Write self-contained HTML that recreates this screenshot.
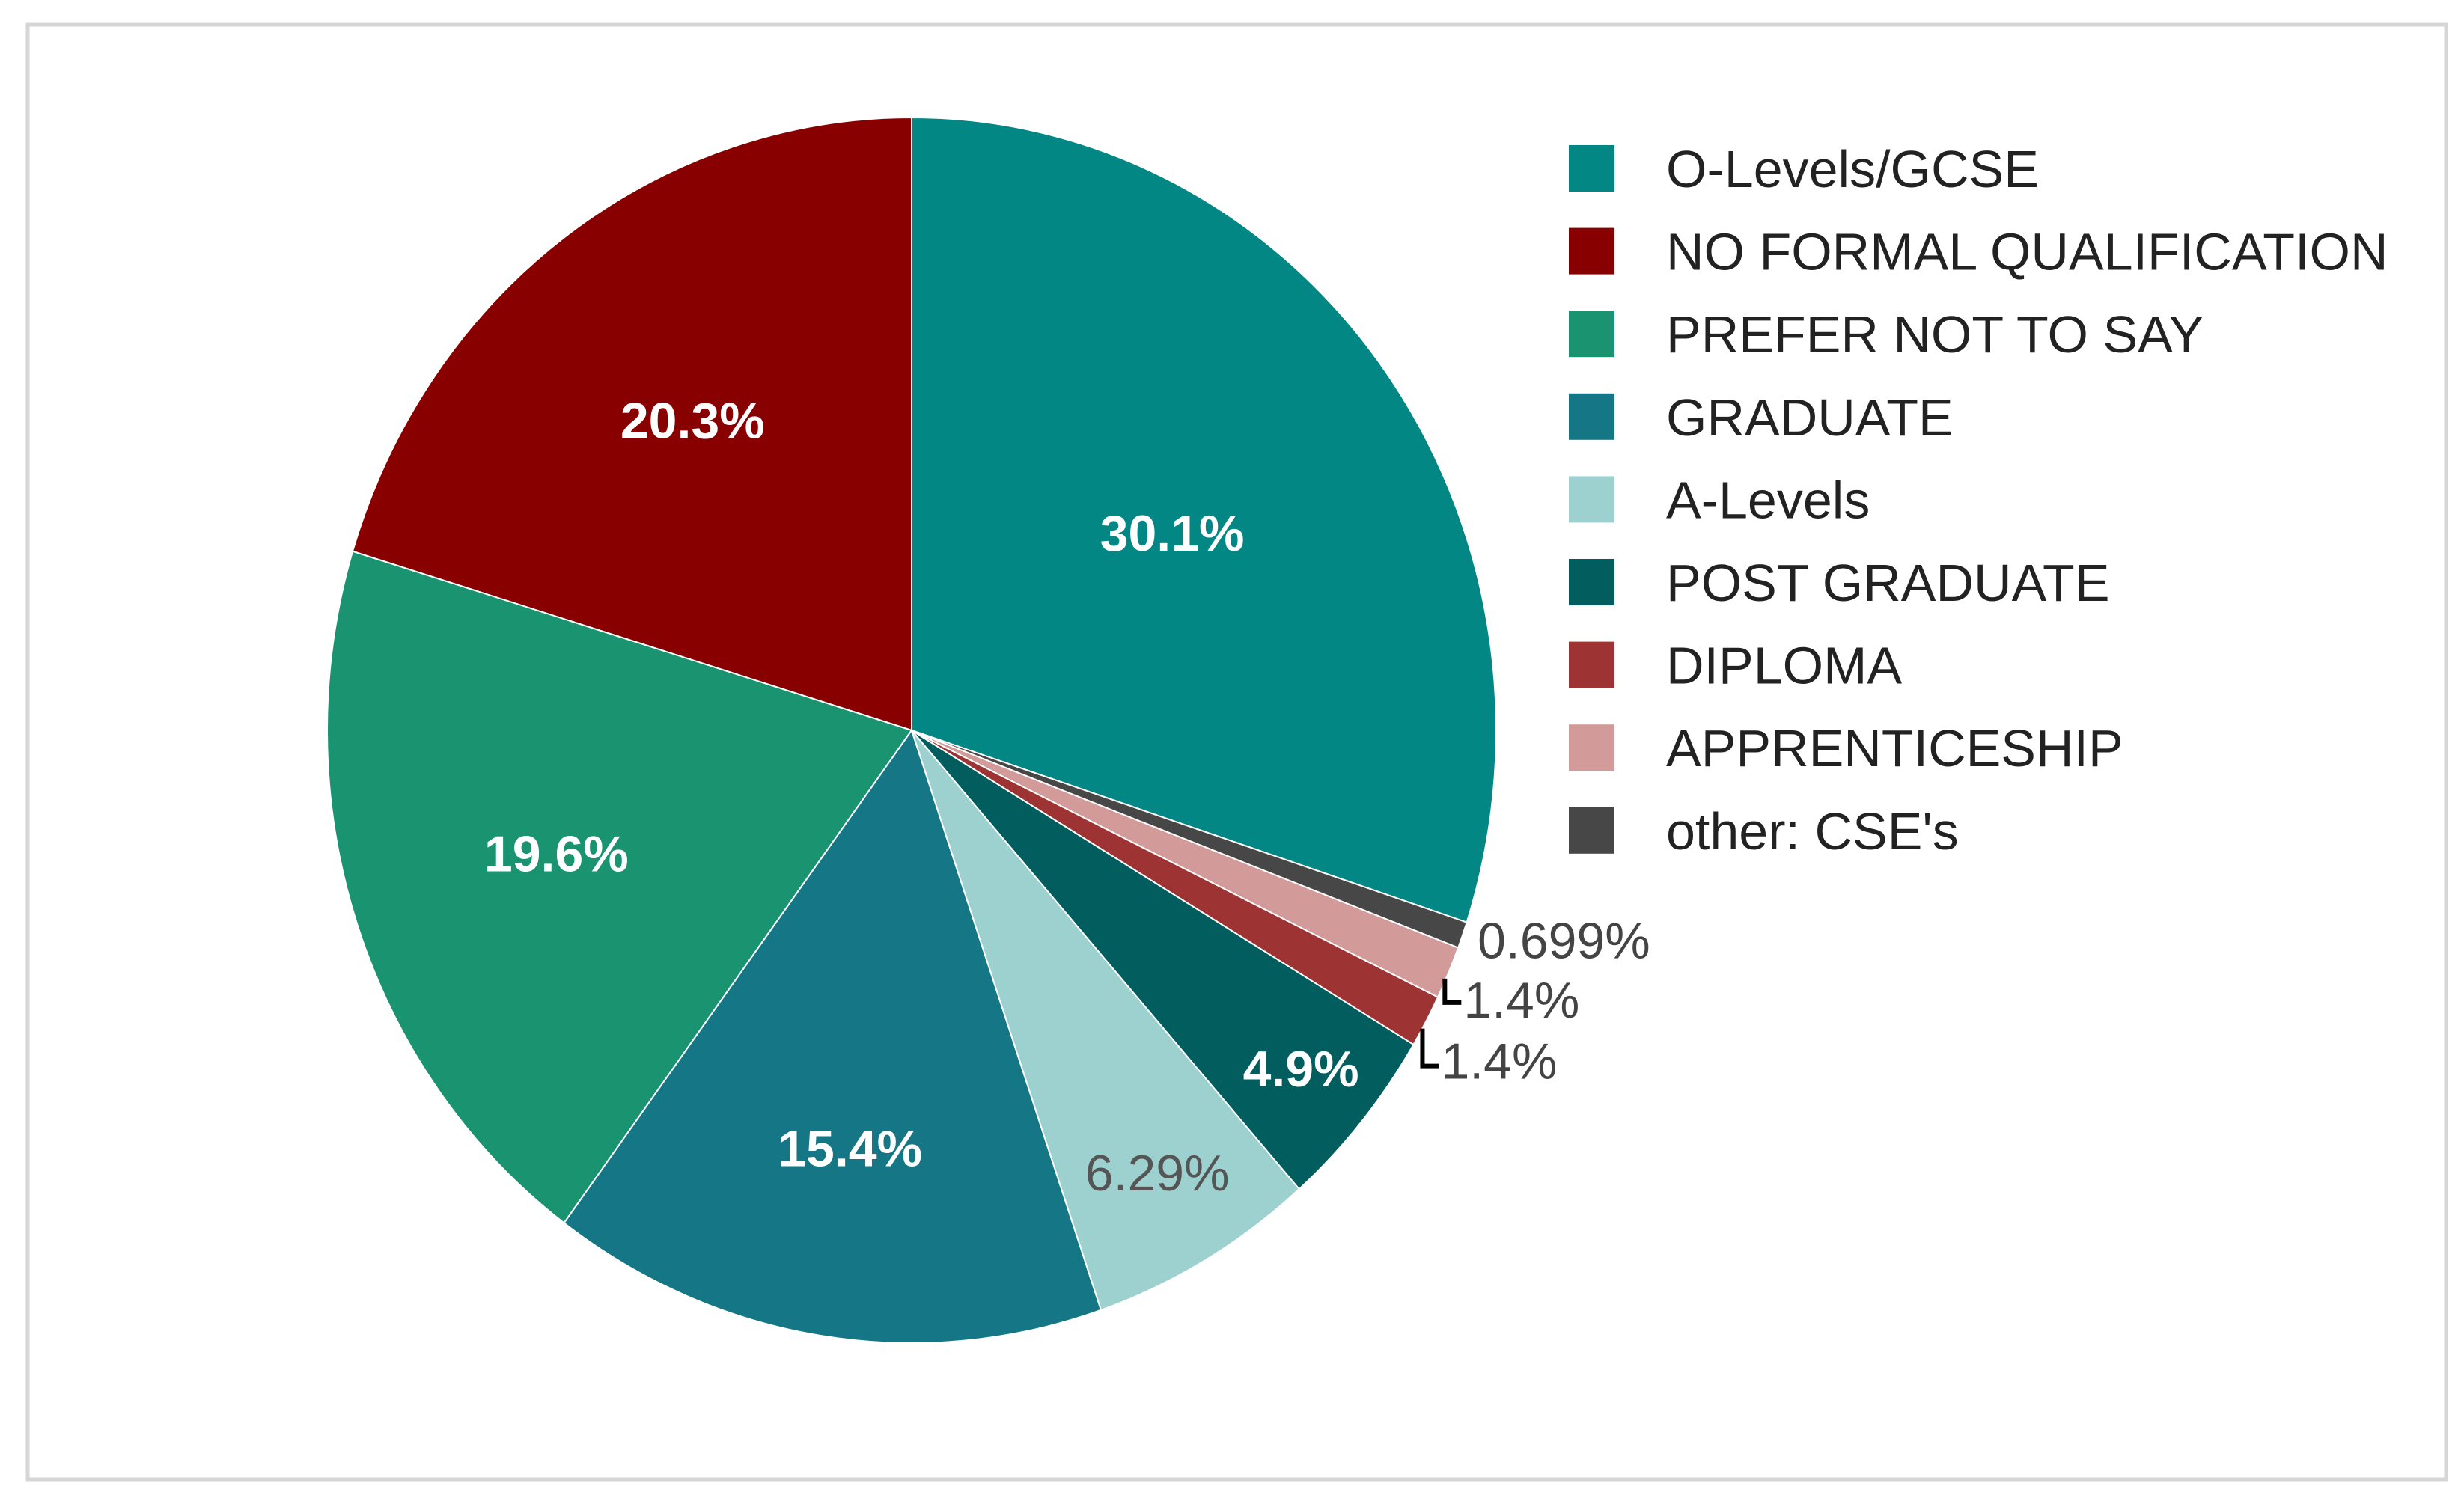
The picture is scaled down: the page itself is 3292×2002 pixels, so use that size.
<!DOCTYPE html>
<html><head><meta charset="utf-8">
<style>
html,body{margin:0;padding:0;background:#fff;}
svg{display:block;}
text{font-family:"Liberation Sans",sans-serif;}
</style></head>
<body>
<svg id="chart" width="3292" height="2002" viewBox="0 0 3292 2002" xmlns="http://www.w3.org/2000/svg">
<rect x="37" y="33" width="3231" height="1944" fill="#fff" stroke="#d6d6d6" stroke-width="5"/>
<g id="slices"></g>
<g id="labels"></g>
<g id="legend"></g>
</svg>
<script>
const categories = ["O-Levels/GCSE","NO FORMAL QUALIFICATION","PREFER NOT TO SAY","GRADUATE","A-Levels","POST GRADUATE","DIPLOMA","APPRENTICESHIP","other: CSE's"];
const values = [30.1,20.3,19.6,15.4,6.29,4.9,1.4,1.4,0.699];
const valueLabels = ["30.1%","20.3%","19.6%","15.4%","6.29%","4.9%","1.4%","1.4%","0.699%"];
const colors = ["#038785","#880000","#1a9470","#157786","#9dd1d0","#025e5e","#9e3333","#d39a9a","#474747"];
const labelRadius = [0.55,0.63,0.64,0.69,0.835,0.865,1,1,1];

const NS = "http://www.w3.org/2000/svg";
const cx = 1218, cy = 976, rx = 781, ry = 819;
const total = values.reduce((a,b)=>a+b,0);
const offset = values[0]/total*2*Math.PI;
function pt(a, f){ return [cx + f*rx*Math.sin(a), cy - f*ry*Math.cos(a)]; }

const gS = document.getElementById('slices');
const gL = document.getElementById('labels');
const gLeg = document.getElementById('legend');
let cum = 0;
values.forEach((v,i)=>{
  const a1 = offset - cum/total*2*Math.PI;
  cum += v;
  const a0 = offset - cum/total*2*Math.PI;
  const p0 = pt(a0,1), p1 = pt(a1,1);
  const large = (a1-a0) > Math.PI ? 1 : 0;
  const path = document.createElementNS(NS,'path');
  path.setAttribute('d',`M${cx},${cy} L${p0[0]},${p0[1]} A${rx},${ry} 0 ${large} 1 ${p1[0]},${p1[1]} Z`);
  path.setAttribute('fill',colors[i]);
  path.setAttribute('stroke','#fff');
  path.setAttribute('stroke-width','2');
  
  
  gS.appendChild(path);

  const mid = (a0+a1)/2;
  const frac = v/total;
  const t = document.createElementNS(NS,'text');
  t.textContent = valueLabels[i];
  t.setAttribute('font-size','68');
  if (frac > 0.03) {
    const p = pt(mid, labelRadius[i]);
    t.setAttribute('x', p[0]); t.setAttribute('y', p[1]+24);
    t.setAttribute('text-anchor','middle');
    if (i===4) { t.setAttribute('fill','#555'); }
    else { t.setAttribute('fill','#fff'); t.setAttribute('font-weight','bold'); }
  } else {
    const e = pt(mid, 1.0);
    t.setAttribute('fill','#444');
    t.setAttribute('text-anchor','start');
    if (i===8){ t.setAttribute('x', e[0]+20); t.setAttribute('y', e[1]+31); }
    else if (i===7){ t.setAttribute('x', e[0]+20); t.setAttribute('y', e[1]+60);
      const l = document.createElementNS(NS,'path');
      l.setAttribute('d',`M${e[0]-5},${e[1]+8} L${e[0]-5},${e[1]+40} L${e[0]+17},${e[1]+40}`);
      l.setAttribute('stroke','#000'); l.setAttribute('stroke-width','6'); l.setAttribute('fill','none');
       
      gL.appendChild(l);
    } else { t.setAttribute('x', e[0]+20); t.setAttribute('y', e[1]+77);
      const l = document.createElementNS(NS,'path');
      l.setAttribute('d',`M${e[0]-5},${e[1]+10} L${e[0]-5},${e[1]+60} L${e[0]+17},${e[1]+60}`);
      l.setAttribute('stroke','#000'); l.setAttribute('stroke-width','6'); l.setAttribute('fill','none');
       
      gL.appendChild(l);
    }
  }
  
  
  gL.appendChild(t);

  const y = 225 + i*110.6;
  const g = document.createElementNS(NS,'g');
  
  
  const r = document.createElementNS(NS,'rect');
  r.setAttribute('x',2096); r.setAttribute('y',y-31); r.setAttribute('width',61); r.setAttribute('height',62);
  r.setAttribute('fill',colors[i]);
  
  
  const lt = document.createElementNS(NS,'text');
  lt.textContent = categories[i];
  lt.setAttribute('x',2226); lt.setAttribute('y',y+25);
  lt.setAttribute('font-size','70'); lt.setAttribute('fill','#222');
  
  
  g.appendChild(r); g.appendChild(lt);
  gLeg.appendChild(g);
});
</script>
</body></html>
